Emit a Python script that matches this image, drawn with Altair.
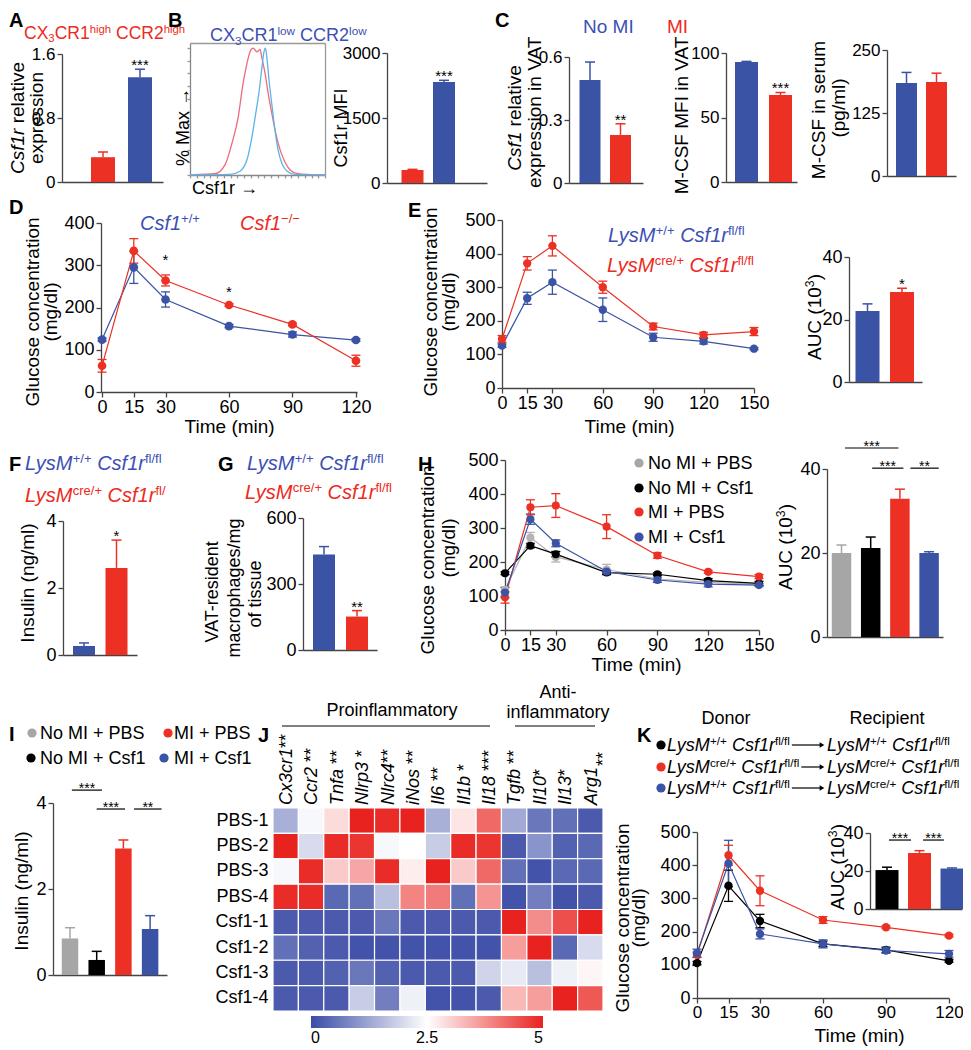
import altair as alt
import pandas as pd

# ---------------------------------------------------------------- data
A_vals = [0.31, 1.31]
A_errs = [0.065, 0.10]
A_ticks = [0, 0.8, 1.6]

B_red_x = [0, 7.4, 18.5, 25.9, 31.1, 35.6, 39.3, 42.2, 44.4, 46.7, 49.6, 51.9, 53.3, 55.6, 57.8, 60.7, 63.7, 66.7, 70.4, 74.1, 80, 88.9, 100]
B_red_y = [0, 0.5, 1, 8, 25, 45, 72, 88, 97, 100, 97, 99, 92, 80, 65, 48, 32, 20, 10, 4, 1, 0.3, 0]
B_blue_x = [0, 29.6, 37, 42.2, 45.9, 48.9, 51.1, 53.3, 54.8, 55.9, 57, 58.5, 60.7, 63, 65.2, 68.1, 71.9, 77.8, 100]
B_blue_y = [0, 0.5, 3, 12, 30, 50, 65, 85, 97, 100, 92, 75, 55, 35, 20, 9, 3, 0.5, 0]
B_vals = [300, 2330]
B_errs = [15, 40]
B_ticks = [0, 1500, 3000]

C1_vals = [0.49, 0.229]
C1_errs = [0.086, 0.053]
C1_ticks = [0, 0.3, 0.6]
C2_vals = [93, 67.4]
C2_errs = [0.5, 2.0]
C2_ticks = [0, 50, 100]
C3_vals = [184.5, 186.5]
C3_errs = [21, 17.5]
C3_ticks = [0, 125, 250]

D_times = [0, 15, 30, 60, 90, 120]
D_wt = [124, 295, 219, 156, 136, 123]
D_wt_err = [4, 38, 18, 4, 6, 3]
D_ko = [62, 334, 264, 206, 160, 74]
D_ko_err = [15, 29, 13, 3, 3, 13]
D_star_t = [30, 60]
D_star_level = [300, 226]
D_xticks = [0, 15, 30, 60, 90, 120]
D_yticks = [0, 100, 200, 300, 400]

E_times = [0, 15, 30, 60, 90, 120, 150]
E_wt = [126, 267, 315, 233, 151, 139, 117]
E_wt_err = [5, 18, 36, 35, 12, 8, 3]
E_ko = [146, 371, 423, 300, 183, 158, 168]
E_ko_err = [10, 20, 30, 18, 10, 8, 12]
E_xticks = [0, 15, 30, 60, 90, 120, 150]
E_yticks = [0, 100, 200, 300, 400, 500]
E_auc = [22.7, 28.8]
E_auc_err = [2.3, 1.2]
AUC_ticks = [0, 20, 40]

F_vals = [0.27, 2.6]
F_errs = [0.09, 0.83]
F_ticks = [0, 2, 4]
G_vals = [434, 152]
G_errs = [36, 27]
G_ticks = [0, 300, 600]

H_times = [0, 15, 30, 60, 90, 120, 150]
H_nomi_pbs = [118, 272, 215, 178, 150, 140, 134]
H_nomi_pbs_err = [8, 15, 15, 15, 6, 5, 4]
H_nomi_csf1 = [167, 248, 223, 169, 164, 145, 137]
H_nomi_csf1_err = [4, 6, 8, 6, 4, 6, 6]
H_mi_pbs = [96, 361, 366, 304, 219, 171, 157]
H_mi_pbs_err = [17, 22, 35, 35, 8, 4, 6]
H_mi_csf1 = [110, 326, 255, 172, 147, 135, 132]
H_mi_csf1_err = [15, 15, 10, 5, 7, 8, 4]
H_auc = [20.0, 21.2, 32.9, 20.0]
H_auc_err = [1.9, 2.6, 2.3, 0.3]
H_sig_from = [0.12, 1.05, 2.36]
H_sig_to = [1.95, 2.12, 3.33]
H_sig_level = [45.0, 40.2, 40.2]
H_sig_text = ["***", "***", "**"]

I_vals = [0.85, 0.35, 2.94, 1.07]
I_errs = [0.25, 0.2, 0.2, 0.31]
I_ticks = [0, 2, 4]
I_sig_from = [0.07, 1.0, 2.4]
I_sig_to = [1.2, 2.06, 3.43]
I_sig_level = [4.3, 3.86, 3.86]
I_sig_text = ["***", "***", "**"]

HM_genes = ["Cx3cr1", "Ccr2", "Tnfa", "Nlrp3", "Nlrc4", "iNos", "Il6", "Il1b", "Il18", "Tgfb", "Il10", "Il13", "Arg1"]
HM_stars = ["**", " **", " **", " *", "**", " **", " **", " *", " ***", " **", "*", "*", ""]
HM_rows = ["PBS-1", "PBS-2", "PBS-3", "PBS-4", "Csf1-1", "Csf1-2", "Csf1-3", "Csf1-4"]
HM_values = [
    [1.4, 2.4, 2.9, 5.0, 4.9, 5.0, 1.4, 2.8, 4.2, 1.3, 0.6, 0.5, 0.2],
    [5.0, 2.0, 4.9, 4.8, 2.4, 2.5, 1.8, 4.9, 4.8, 0.2, 1.0, 0.3, 0.4],
    [2.4, 4.9, 3.1, 3.5, 4.9, 2.7, 5.0, 3.1, 4.2, 0.5, 0.1, 0.4, 0.4],
    [4.9, 4.9, 0.4, 0.5, 1.6, 3.9, 4.0, 0.5, 3.7, 0.1, 0.7, 0.1, 0.2],
    [0.2, 0.2, 0.2, 0.2, 0.6, 0.2, 0.2, 0.2, 0.2, 5.0, 3.8, 4.5, 5.0],
    [0.5, 0.3, 0.2, 0.1, 0.1, 0.1, 0.1, 0.1, 0.1, 3.6, 5.0, 0.4, 2.0],
    [0.2, 0.2, 0.3, 0.6, 0.3, 0.2, 0.2, 0.2, 1.9, 2.2, 1.6, 2.3, 2.6],
    [0.2, 0.2, 0.2, 1.8, 0.7, 2.3, 0.1, 0.1, 0.2, 3.3, 3.6, 5.0, 4.4],
]
HM_legend_values = [0, 2.5, 5]

K_times = [0, 15, 30, 60, 90, 120]
K_wt_wt = [105, 338, 232, 163, 145, 112]
K_wt_wt_err = [5, 47, 20, 8, 8, 4]
K_cre_cre = [130, 430, 323, 235, 213, 188]
K_cre_cre_err = [8, 30, 45, 10, 4, 4]
K_wt_cre = [135, 405, 193, 163, 143, 133]
K_wt_cre_err = [12, 70, 15, 12, 8, 10]
K_xticks = [0, 15, 30, 60, 90, 120]
K_yticks = [0, 100, 200, 300, 400, 500]
K_auc = [20.5, 29.5, 21.3]
K_auc_err = [1.5, 1.2, 0.3]
K_sig_from = [0.06, 1.11]
K_sig_to = [0.74, 1.75]
K_sig_level = [36.3, 36.3]
K_sig_text = ["***", "***"]

# ---------------------------------------------------------------- style / layout
W, H = 955, 1040
M = 8  # page margin: page coordinate = chart coordinate + M
FONT = "Liberation Sans"
NUMFMT = ".4~g"
RED = "#EC3124"
BLUE = "#3A53A4"
GRAY = "#A6A6A6"
BLACK = "#000000"
T_RED = "#EE2A22"
T_BLUE = "#3C50B4"
HIST_RED = "#EE6A7A"
HIST_BLUE = "#5AB4E6"
HM_BLUE = "#3B4CA6"
HM_RED = "#E8231F"
AXC = "#444444"

AW = {' ': 278, '!': 278, '%': 889, '(': 333, ')': 333, '*': 389, '+': 584, ',': 278, '-': 333,
      '.': 278, '/': 278, ':': 278, '\u2212': 584, '\u2192': 1000}
for ch in "0123456789":
    AW[ch] = 556
AW.update(dict(zip("ABCDEFGHIJKLMNOPQRSTUVWXYZ",
                   [667, 667, 722, 722, 667, 611, 778, 722, 278, 500, 667, 556, 833, 722, 778, 667, 778, 722, 667, 611, 722, 667, 944, 667, 667, 611])))
AW.update(dict(zip("abcdefghijklmnopqrstuvwxyz",
                   [556, 556, 500, 556, 556, 278, 556, 556, 222, 222, 500, 222, 833, 556, 556, 556, 556, 333, 500, 278, 556, 500, 722, 500, 500, 500])))


def tw(s, size):
    return sum(AW.get(ch, 556) for ch in s) * size / 1000.0


TEXT_ROWS = []
SMALL = {"sup": 0.65, "sub": 0.65}


def rich(segs, x, y, size, color=BLACK, anchor="start", angle=0):
    """segs: list of (text, kind); x, y: page coords on the text centre line."""
    widths = [tw(t, size * SMALL.get(k, 1.0)) for t, k in segs]
    total = sum(widths)
    pos = {"start": 0.0, "middle": -total / 2.0, "end": -total}[anchor]
    if angle == 0:
        dx, dy, ux, uy = 1, 0, 0, -1
    else:
        dx, dy, ux, uy = 0, -1, -1, 0
    off = 0.35 * size
    for (t, k), w in zip(segs, widths):
        s = size * SMALL.get(k, 1.0)
        lead = len(t) - len(t.lstrip(" "))
        p = pos + tw(" " * lead, s)
        txt = t.strip(" ")
        rise = {"sup": 0.33 * size, "sub": -0.18 * size}.get(k, 0.0)
        bx = x + dx * p - ux * off + ux * rise
        by = y + dy * p - uy * off + uy * rise
        if txt:
            TEXT_ROWS.append(dict(x=bx - M, y=by - M, text=txt, size=s, color=color,
                                  angle=angle, kind={"i": "italic", "b": "bold"}.get(k, "normal")))
        pos += w
    return total


def bar_panel(vals, errs, colors, L, ticks, stars=None, sig=None, lsize=17):
    n = len(vals)
    d0 = -(L["c0"] - L["x0"]) / L["step"]
    d1 = (L["x1"] - L["c0"]) / L["step"]
    hb = L["bw"] / 2.0 / L["step"]
    cap = min(hb, 5.0 / L["step"])
    idx = list(range(n))
    df = pd.DataFrame({"i": idx, "v": vals, "z": [0] * n, "top": [v + e for v, e in zip(vals, errs)],
                       "l": [i - hb for i in idx], "r": [i + hb for i in idx],
                       "cl": [i - cap for i in idx], "cr": [i + cap for i in idx],
                       "col": colors, "star": stars if stars else [""] * n})
    xs = alt.Scale(domain=[d0, d1], range=[L["x0"] - M, L["x1"] - M], nice=False, zero=False)
    ys = alt.Scale(domain=[0, L["ymax"]], range=[L["yb"] - M, L["yt"] - M], nice=False, zero=False)
    xax = alt.Axis(orient="bottom", offset=(L["yb"] - M) - H, labels=False, ticks=False, title=None, grid=False)
    yax = alt.Axis(orient="left", offset=-(L["x0"] - M), values=ticks, format=NUMFMT, title=None, grid=False,
                   labelFontSize=lsize, labelFlush=False, labelOverlap=False)
    C = alt.Color("col:N", scale=None)
    base = alt.Chart(df)
    out = [
        base.mark_bar().encode(x=alt.X("l:Q", scale=xs, axis=xax), x2="r:Q",
                               y=alt.Y("v:Q", scale=ys, axis=yax), y2="z:Q", color=C),
        base.mark_rule(strokeWidth=1.5).encode(x=alt.X("i:Q", scale=xs, axis=None),
                                               y=alt.Y("v:Q", scale=ys, axis=None), y2="top:Q", color=C),
        base.mark_rule(strokeWidth=1.5).encode(x=alt.X("cl:Q", scale=xs, axis=None), x2="cr:Q",
                                               y=alt.Y("top:Q", scale=ys, axis=None), color=C),
    ]
    if stars:
        out.append(base.mark_text(font=FONT, fontSize=15, baseline="alphabetic", dy=1, color=BLACK).encode(
            x=alt.X("i:Q", scale=xs, axis=None), y=alt.Y("top:Q", scale=ys, axis=None), text="star:N"))
    if sig:
        a, b, h, s = sig
        sdf = pd.DataFrame({"a": a, "b": b, "h": h, "s": s, "m": [(p + q) / 2 for p, q in zip(a, b)]})
        sb = alt.Chart(sdf)
        out.append(sb.mark_rule(strokeWidth=1.2, color=BLACK).encode(
            x=alt.X("a:Q", scale=xs, axis=None), x2="b:Q", y=alt.Y("h:Q", scale=ys, axis=None)))
        out.append(sb.mark_text(font=FONT, fontSize=14, baseline="alphabetic", dy=3, color=BLACK).encode(
            x=alt.X("m:Q", scale=xs, axis=None), y=alt.Y("h:Q", scale=ys, axis=None), text="s:N"))
    return out


def line_panel(times, series, L, xdom, xticks, ymax, yticks, psize=70, lsize=18, xlsize=18, stars=None):
    xs = alt.Scale(domain=xdom, range=[L["x0"] - M, L["x1"] - M], nice=False, zero=False)
    ys = alt.Scale(domain=[0, ymax], range=[L["yb"] - M, L["yt"] - M], nice=False, zero=False)
    ppu = (L["x1"] - L["x0"]) / float(xdom[1] - xdom[0])
    cap = 4.5 / ppu
    rows = []
    for o, (vals, errs, col) in enumerate(series):
        for t, v, e in zip(times, vals, errs):
            rows.append(dict(t=t, v=v, lo=v - e, hi=v + e, cl=t - cap, cr=t + cap, col=col, o=o))
    df = pd.DataFrame(rows)
    base = alt.Chart(df)
    xax = alt.Axis(orient="bottom", offset=(L["yb"] - M) - H, values=xticks, title=None, grid=False,
                   labelFontSize=xlsize, labelFlush=False, labelOverlap=False, labelPadding=1)
    yax = alt.Axis(orient="left", offset=-(L["x0"] - M), values=yticks, title=None, grid=False,
                   labelFontSize=lsize, labelFlush=False, labelOverlap=False)
    C = alt.Color("col:N", scale=None)
    out = [
        base.mark_rule(strokeWidth=1.3).encode(x=alt.X("t:Q", scale=xs, axis=xax),
                                               y=alt.Y("lo:Q", scale=ys, axis=yax), y2="hi:Q", color=C),
        base.mark_rule(strokeWidth=1.3).encode(x=alt.X("cl:Q", scale=xs, axis=None), x2="cr:Q",
                                               y=alt.Y("hi:Q", scale=ys, axis=None), color=C),
        base.mark_rule(strokeWidth=1.3).encode(x=alt.X("cl:Q", scale=xs, axis=None), x2="cr:Q",
                                               y=alt.Y("lo:Q", scale=ys, axis=None), color=C),
        base.mark_line(strokeWidth=1.2).encode(x=alt.X("t:Q", scale=xs, axis=None),
                                               y=alt.Y("v:Q", scale=ys, axis=None), color=C,
                                               detail="o:N", order="t:Q"),
        base.mark_circle(size=psize, opacity=1).encode(x=alt.X("t:Q", scale=xs, axis=None),
                                                       y=alt.Y("v:Q", scale=ys, axis=None), color=C),
    ]
    if stars:
        st, sl = stars
        sdf = pd.DataFrame({"t": st, "h": sl, "s": ["*"] * len(st)})
        out.append(alt.Chart(sdf).mark_text(font=FONT, fontSize=15, baseline="alphabetic", color=BLACK).encode(
            x=alt.X("t:Q", scale=xs, axis=None), y=alt.Y("h:Q", scale=ys, axis=None), text="s:N"))
    return out


layers = []

# ---- A
layers += bar_panel(A_vals, A_errs, [RED, BLUE],
                    dict(x0=62, x1=163, c0=103, step=37, bw=24, yb=182, yt=54, ymax=1.6),
                    A_ticks, stars=["", "***"], lsize=17)

# ---- B histogram
hist = pd.DataFrame({"x": B_red_x + B_blue_x, "y": B_red_y + B_blue_y,
                     "col": [HIST_RED] * len(B_red_x) + [HIST_BLUE] * len(B_blue_x)})
hxs = alt.Scale(domain=[0, 100], range=[190 - M, 325 - M], nice=False, zero=False)
hys = alt.Scale(domain=[0, 104], range=[175 - M, 43 - M], nice=False, zero=False)
layers.append(alt.Chart(hist[hist.col == HIST_RED]).mark_line(strokeWidth=1.3, interpolate="monotone").encode(
    x=alt.X("x:Q", scale=hxs, axis=alt.Axis(orient="bottom", offset=(175 - M) - H, labels=False, title=None,
                                            grid=False, values=list(range(0, 101, 5)), tickSize=3,
                                            domainColor="#888", tickColor="#999")),
    y=alt.Y("y:Q", scale=hys, axis=alt.Axis(orient="left", offset=-(190 - M), labels=False, title=None,
                                            grid=False, values=list(range(0, 101, 10)), tickSize=3,
                                            domainColor="#888", tickColor="#999")),
    color=alt.Color("col:N", scale=None)))
layers.append(alt.Chart(hist[hist.col == HIST_BLUE]).mark_line(strokeWidth=1.3, interpolate="monotone").encode(
    x=alt.X("x:Q", scale=hxs, axis=alt.Axis(orient="top", offset=-(43 - M), labels=False, ticks=False, title=None,
                                            grid=False, domainColor="#999")),
    y=alt.Y("y:Q", scale=hys, axis=alt.Axis(orient="right", offset=(325 - M) - W, labels=False, ticks=False,
                                            title=None, grid=False, domainColor="#999")),
    color=alt.Color("col:N", scale=None)))

# ---- B bars
layers += bar_panel(B_vals, B_errs, [RED, BLUE],
                    dict(x0=387, x1=487, c0=412.5, step=31.5, bw=22, yb=183, yt=53, ymax=3000),
                    B_ticks, stars=["", "***"], lsize=17)

# ---- C
layers += bar_panel(C1_vals, C1_errs, [BLUE, RED],
                    dict(x0=569, x1=643, c0=590, step=30.5, bw=21, yb=183, yt=57, ymax=0.6),
                    C1_ticks, stars=["", "**"], lsize=17)
layers += bar_panel(C2_vals, C2_errs, [BLUE, RED],
                    dict(x0=726, x1=797, c0=746.5, step=34, bw=23, yb=182, yt=53, ymax=100),
                    C2_ticks, stars=["", "***"], lsize=17)
layers += bar_panel(C3_vals, C3_errs, [BLUE, RED],
                    dict(x0=887, x1=956, c0=906.5, step=30, bw=21, yb=176, yt=50, ymax=250),
                    C3_ticks, lsize=17)

# ---- D
layers += line_panel(D_times, [(D_wt, D_wt_err, BLUE), (D_ko, D_ko_err, RED)],
                     dict(x0=101, x1=357, yb=392, yt=223), [-0.5, 120.5], D_xticks, 400, D_yticks,
                     psize=75, stars=(D_star_t, D_star_level))

# ---- E
layers += line_panel(E_times, [(E_wt, E_wt_err, BLUE), (E_ko, E_ko_err, RED)],
                     dict(x0=502, x1=754, yb=388, yt=220), [0, 150], E_xticks, 500, E_yticks, psize=70)
layers += bar_panel(E_auc, E_auc_err, [BLUE, RED],
                    dict(x0=849, x1=922, c0=867.5, step=34.5, bw=24, yb=382, yt=257, ymax=40),
                    AUC_ticks, stars=["", "*"], lsize=18)

# ---- F, G
layers += bar_panel(F_vals, F_errs, [BLUE, RED],
                    dict(x0=63, x1=137, c0=84, step=32.5, bw=22, yb=655, yt=521, ymax=4),
                    F_ticks, stars=["", "*"], lsize=18)
layers += bar_panel(G_vals, G_errs, [BLUE, RED],
                    dict(x0=303, x1=377, c0=324, step=33, bw=22, yb=650, yt=518, ymax=600),
                    G_ticks, stars=["", "**"], lsize=18)

# ---- H
layers += line_panel(H_times, [(H_nomi_pbs, H_nomi_pbs_err, "#B4B4B4"), (H_nomi_csf1, H_nomi_csf1_err, BLACK),
                               (H_mi_pbs, H_mi_pbs_err, RED), (H_mi_csf1, H_mi_csf1_err, BLUE)],
                     dict(x0=505, x1=759, yb=630, yt=460), [0, 150], E_xticks, 500, E_yticks, psize=65)
layers += bar_panel(H_auc, H_auc_err, [GRAY, BLACK, RED, BLUE],
                    dict(x0=827, x1=943, c0=841.5, step=29.2, bw=19.5, yb=637, yt=469, ymax=40),
                    AUC_ticks, sig=(H_sig_from, H_sig_to, H_sig_level, H_sig_text), lsize=18)

# ---- I
layers += bar_panel(I_vals, I_errs, [GRAY, BLACK, RED, BLUE],
                    dict(x0=53, x1=167, c0=70, step=26.7, bw=16.5, yb=975, yt=803, ymax=4),
                    I_ticks, sig=(I_sig_from, I_sig_to, I_sig_level, I_sig_text), lsize=18)

# ---- J heatmap
hm = pd.DataFrame([dict(row=r, gene=g, v=HM_values[ri][gi])
                   for ri, r in enumerate(HM_rows) for gi, g in enumerate(HM_genes)])
layers.append(alt.Chart(hm).mark_rect(stroke="white", strokeWidth=1.2).encode(
    x=alt.X("gene:N", scale=alt.Scale(domain=HM_genes, range=[273 - M, 603 - M], paddingInner=0, paddingOuter=0),
            axis=None),
    y=alt.Y("row:N", scale=alt.Scale(domain=HM_rows, range=[808 - M, 1011 - M], paddingInner=0, paddingOuter=0),
            axis=alt.Axis(orient="left", offset=-(273 - M), ticks=False, domain=False, title=None,
                          labelFontSize=18, labelPadding=5, labelColor=BLACK)),
    color=alt.Color("v:Q", scale=alt.Scale(domain=[0, 2.5, 5], range=[HM_BLUE, "#FFFFFF", HM_RED],
                                           interpolate="rgb"),
                    legend=alt.Legend(orient="none", legendX=311 - M, legendY=1016 - M, direction="horizontal",
                                      gradientLength=232, gradientThickness=12, title=None,
                                      values=HM_legend_values, format=NUMFMT, labelFontSize=16, labelFont=FONT,
                                      labelColor=BLACK, labelOffset=2, gradientStrokeWidth=0))))

# ---- K
layers += line_panel(K_times, [(K_wt_wt, K_wt_wt_err, BLACK), (K_cre_cre, K_cre_cre_err, RED),
                               (K_wt_cre, K_wt_cre_err, BLUE)],
                     dict(x0=697, x1=949, yb=998, yt=832), [0, 120], K_xticks, 500, K_yticks, psize=70,
                     xlsize=17)
layers += bar_panel(K_auc, K_auc_err, [BLACK, RED, BLUE],
                    dict(x0=870, x1=962, c0=887, step=32.5, bw=23, yb=909, yt=833, ymax=40),
                    AUC_ticks, sig=(K_sig_from, K_sig_to, K_sig_level, K_sig_text), lsize=18)

# ---------------------------------------------------------------- annotations
# panel letters
for L_, x_, y_ in [("A", 9, 19.5), ("B", 168, 19.5), ("C", 495, 19.5), ("D", 9, 207), ("E", 408, 210),
                   ("F", 9, 464), ("G", 218, 464), ("H", 418, 464), ("I", 9, 734), ("J", 258, 735),
                   ("K", 637, 735)]:
    rich([(L_, "b")], x_, y_, 20)

hi = [("CX", "n"), ("3", "sub"), ("CR1", "n"), ("high", "sup"), (" CCR2", "n"), ("high", "sup")]
lo = [("CX", "n"), ("3", "sub"), ("CR1", "n"), ("low", "sup"), (" CCR2", "n"), ("low", "sup")]
rich(hi, 24, 33, 17.5, T_RED)
rich(lo, 210, 35, 18, T_BLUE)
rich([("No MI", "n")], 583, 26, 19, T_BLUE)
rich([("MI", "n")], 667, 26, 19, T_RED)

wt_lab = [("LysM", "i"), ("+/+", "sup"), (" Csf1r", "i"), ("fl/fl", "sup")]
cre_lab = [("LysM", "i"), ("cre/+", "sup"), (" Csf1r", "i"), ("fl/fl", "sup")]
rich([("Csf1", "i"), ("+/+", "sup")], 140, 223, 20, T_BLUE)
rich([("Csf1", "i"), ("\u2212/\u2212", "sup")], 240, 223, 20, T_RED)
rich(wt_lab, 608, 235, 20, T_BLUE)
rich(cre_lab, 607, 265, 20, T_RED)
rich(wt_lab, 25, 463, 20, T_BLUE)
rich([("LysM", "i"), ("cre/+", "sup"), (" Csf1r", "i"), ("fl/", "sup")], 25, 495, 20, T_RED)
rich(wt_lab, 247, 463, 20, T_BLUE)
rich(cre_lab, 245, 492, 20, T_RED)

# axis titles (rotated)
rich([("Csf1r", "i"), (" relative", "n")], 17, 118, 19, anchor="middle", angle=270)
rich([("expression", "n")], 36, 118, 19, anchor="middle", angle=270)
rich([("% Max \u2192", "n")], 183, 127, 18, anchor="middle", angle=270)
rich([("Csf1r \u2192", "n")], 192, 188, 18)
rich([("Csf1r MFI", "n")], 341, 128, 18, anchor="middle", angle=270)
rich([("Csf1", "i"), (" relative", "n")], 514, 118, 19, anchor="middle", angle=270)
rich([("expression in VAT", "n")], 534, 111, 19, anchor="middle", angle=270)
rich([("M-CSF MFI in VAT", "n")], 681, 114, 19, anchor="middle", angle=270)
rich([("M-CSF in serum", "n")], 818, 110, 19, anchor="middle", angle=270)
rich([("(pg/ml)", "n")], 838, 108, 19, anchor="middle", angle=270)
for gx, mx, cy, cy2 in [(32, 50, 312, 312), (430, 448, 302, 302), (427, 448, 560, 548), (622, 638, 918, 918)]:
    rich([("Glucose concentration", "n")], gx, cy, 19, anchor="middle", angle=270)
    rich([("(mg/dl)", "n")], mx, cy2, 19, anchor="middle", angle=270)
auc = [("AUC (10", "n"), ("3", "sup"), (")", "n")]
rich(auc, 814, 317, 19, anchor="middle", angle=270)
rich(auc, 785, 547, 19, anchor="middle", angle=270)
rich(auc, 837, 867, 19, anchor="middle", angle=270)
rich([("Insulin (ng/ml)", "n")], 27, 583, 19, anchor="middle", angle=270)
rich([("Insulin (ng/ml)", "n")], 21, 891, 19, anchor="middle", angle=270)
rich([("VAT-resident", "n")], 212, 590, 18, anchor="middle", angle=270)
rich([("macrophages/mg", "n")], 234, 588, 18, anchor="middle", angle=270)
rich([("of tissue", "n")], 255, 594, 18, anchor="middle", angle=270)
for cx, cy in [(230, 426), (630, 426), (637, 664), (860, 1035)]:
    rich([("Time (min)", "n")], cx, cy, 19, anchor="middle")

# H and I legends
dots = []
for (lab, col), cy in zip([("No MI + PBS", GRAY), ("No MI + Csf1", BLACK), ("MI + PBS", RED), ("MI + Csf1", BLUE)],
                          [463, 488, 512, 537]):
    dots.append(dict(x=639 - M, y=cy - M, col=col))
    rich([(lab, "n")], 648, cy, 18)
for lab, col, dx, tx, cy in [("No MI + PBS", GRAY, 32, 40, 733), ("MI + PBS", RED, 168, 174, 733),
                             ("No MI + Csf1", BLACK, 31, 40, 758), ("MI + Csf1", BLUE, 164, 174, 758)]:
    dots.append(dict(x=dx - M, y=cy - M, col=col))
    rich([(lab, "n")], tx, cy, 18)

# J headers and column labels
rich([("Proinflammatory", "n")], 392, 710, 18, anchor="middle")
rich([("Anti-", "n")], 558, 692, 18, anchor="middle")
rich([("inflammatory", "n")], 558, 712, 18, anchor="middle")
cw = (603 - 273) / 13.0
for gi, (g, s) in enumerate(zip(HM_genes, HM_stars)):
    rich([(g, "i"), (s, "n")], 273 + cw * (gi + 0.5), 805, 18, angle=270)
rich([("**", "n")], 603, 766, 18, angle=270)

# K legend
rich([("Donor", "n")], 726, 718, 18, anchor="middle")
rich([("Recipient", "n")], 887, 718, 18, anchor="middle")
rules = [dict(x=282 - M, x2=490 - M, y=726 - M), dict(x=515 - M, x2=595 - M, y=726 - M)]
heads = []
for donor, recip, col, cy in [(wt_lab, wt_lab, BLACK, 745), (cre_lab, cre_lab, RED, 767), (wt_lab, cre_lab, BLUE, 788)]:
    dots.append(dict(x=661 - M, y=cy - M, col=col))
    wdt = rich(donor, 667, cy, 18)
    rules.append(dict(x=667 + wdt + 2 - M, x2=820 - M, y=cy - M))
    heads.append(dict(x=822 - M, y=cy - M))
    rich(recip, 827, cy, 18)

dots_df = pd.DataFrame(dots)
layers.append(alt.Chart(dots_df).mark_circle(size=85, opacity=1).encode(
    x=alt.X("x:Q", scale=None, axis=None), y=alt.Y("y:Q", scale=None, axis=None),
    color=alt.Color("col:N", scale=None)))
layers.append(alt.Chart(pd.DataFrame(rules)).mark_rule(strokeWidth=1.2, color=BLACK).encode(
    x=alt.X("x:Q", scale=None, axis=None), x2="x2:Q", y=alt.Y("y:Q", scale=None, axis=None)))
layers.append(alt.Chart(pd.DataFrame(heads)).mark_point(shape="triangle-right", filled=True, size=30,
                                                        color=BLACK, opacity=1).encode(
    x=alt.X("x:Q", scale=None, axis=None), y=alt.Y("y:Q", scale=None, axis=None)))

tdf = pd.DataFrame(TEXT_ROWS)
for kind, style, weight in [("normal", "normal", "normal"), ("italic", "italic", "normal"), ("bold", "normal", "bold")]:
    sub = tdf[tdf.kind == kind].drop(columns=["kind"])
    layers.append(alt.Chart(sub).mark_text(align="left", baseline="alphabetic", font=FONT,
                                           fontStyle=style, fontWeight=weight).encode(
        x=alt.X("x:Q", scale=None, axis=None), y=alt.Y("y:Q", scale=None, axis=None), text="text:N",
        size=alt.Size("size:Q", scale=None), angle=alt.Angle("angle:Q", scale=None),
        color=alt.Color("color:N", scale=None)))

chart = alt.layer(*layers).resolve_scale(
    x="independent", y="independent", color="independent"
).properties(
    width=W, height=H, padding=0, autosize=alt.AutoSizeParams(type="none")
).configure_view(stroke=None).configure_axis(
    labelFont=FONT, labelColor=BLACK, domainColor=AXC, tickColor=AXC, domainWidth=1.3, tickWidth=1.3,
    tickSize=5, labelPadding=2, grid=False
)

chart.save("out.html", embed_options={"renderer": "svg", "actions": False})
